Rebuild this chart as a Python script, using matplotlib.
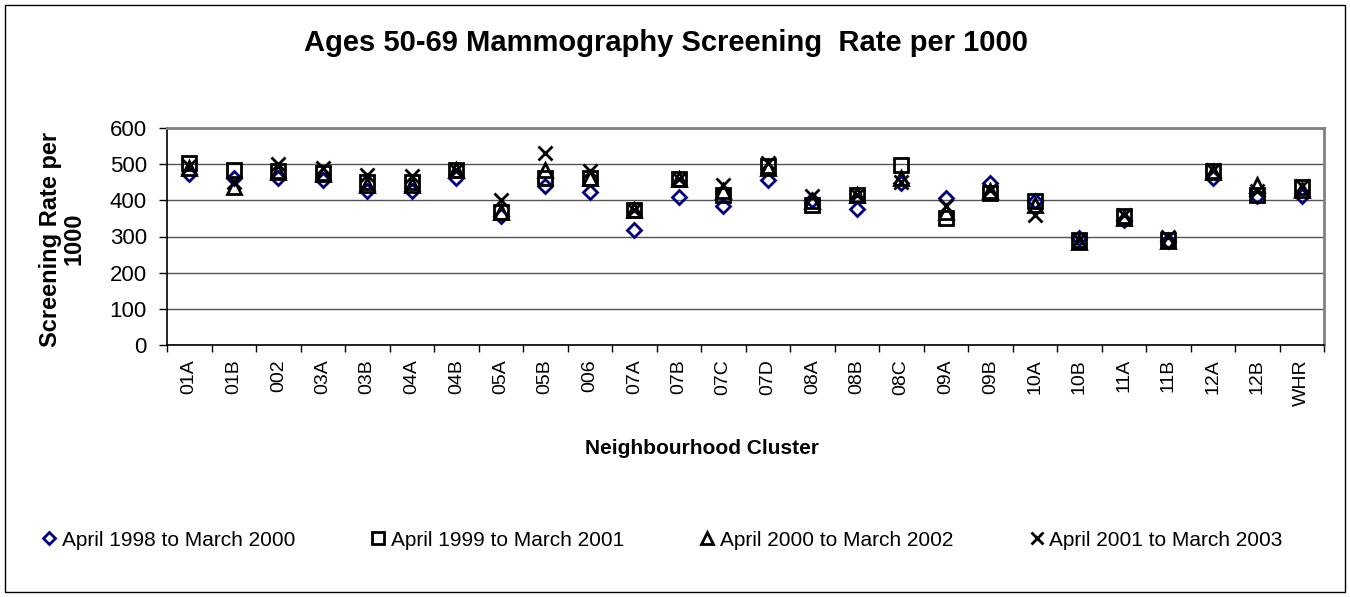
import matplotlib
matplotlib.use("Agg")
import matplotlib.pyplot as plt
from matplotlib.patches import Rectangle

plt.rcParams['font.family'] = ['Liberation Sans', 'DejaVu Sans']

# neighbourhood clusters along the x axis
clusters = ['01A', '01B', '002', '03A', '03B', '04A', '04B', '05A', '05B', '006',
            '07A', '07B', '07C', '07D', '08A', '08B', '08C', '09A', '09B', '10A',
            '10B', '11A', '11B', '12A', '12B', 'WHR']

# screening rate per 1000, one list per period
rate_98_00 = [472, 462, 462, 455, 425, 425, 462, 356, 440, 423, 319, 409, 383,
              457, 402, 376, 448, 406, 448, 397, 296, 346, 288, 462, 411, 413]
rate_99_01 = [503, 485, 482, 475, 452, 452, 485, 369, 462, 462, 374, 459, 416,
              494, 388, 416, 498, 351, 420, 397, 289, 357, 291, 482, 416, 437]
rate_00_02 = [490, 437, 478, 472, 443, 443, 485, 369, 485, 462, 372, 459, 425,
              490, 398, 416, 462, 369, 425, 388, 285, 352, 288, 478, 443, 429]
rate_01_03 = [495, 452, 500, 490, 470, 468, 485, 400, 531, 480, 374, 459, 443,
              503, 411, 416, 452, 383, 429, 360, 291, 360, 300, 485, 425, 440]

periods = ['April 1998 to March 2000', 'April 1999 to March 2001',
           'April 2000 to March 2002', 'April 2001 to March 2003']

W, H = 1350, 597
fig = plt.figure(figsize=(W / 100, H / 100), dpi=100)

# outer chart border
fig.patches.append(Rectangle((5 / W, 5 / H), 1340 / W, 587 / H, transform=fig.transFigure,
                             fill=False, edgecolor='black', linewidth=1))

ax = fig.add_axes([167 / W, (H - 345) / H, 1157 / W, 217 / H])

x = list(range(len(clusters)))
ax.plot(x, rate_98_00, linestyle='none', marker='D', ms=7, mfc='none', mec='#000080',
        mew=2, label=periods[0])
ax.plot(x, rate_99_01, linestyle='none', marker='s', ms=10, mfc='none', mec='black',
        mew=2, label=periods[1])
ax.plot(x, rate_00_02, linestyle='none', marker='^', ms=10, mfc='none', mec='black',
        mew=2, label=periods[2])
ax.plot(x, rate_01_03, linestyle='none', marker='x', ms=10, mec='black',
        mew=2, label=periods[3])

ax.set_xlim(-0.5, len(clusters) - 0.5)
ax.set_ylim(0, 600)
ax.set_yticks(range(0, 601, 100))
ax.tick_params(axis='y', labelsize=16, length=6, width=1, direction='out', pad=8.5)
ax.set_xticks(x)
ax.set_xticklabels(clusters, rotation=90, fontsize=14)
ax.tick_params(axis='x', which='major', length=0, pad=10)
ax.set_xticks([i - 0.5 for i in range(len(clusters) + 1)], minor=True)
ax.tick_params(axis='x', which='minor', length=5, width=1, direction='out')

ax.grid(axis='y', color='#555555', linewidth=1)
ax.set_axisbelow(True)
ax.spines['top'].set_color('#808080')
ax.spines['right'].set_color('#808080')
ax.spines['top'].set_linewidth(2)
ax.spines['right'].set_linewidth(2)
ax.spines['left'].set_linewidth(1.2)
ax.spines['bottom'].set_linewidth(1.2)

fig.text(666 / W, 1 - 43 / H, 'Ages 50-69 Mammography Screening  Rate per 1000',
         ha='center', va='center', fontsize=21, fontweight='bold')
fig.text(62 / W, 1 - 239 / H, 'Screening Rate per\n1000', rotation=90, ha='center',
         va='center', multialignment='center', fontsize=17, fontweight='bold',
         linespacing=1.05)
fig.text(702 / W, 1 - 449 / H, 'Neighbourhood Cluster', ha='center', va='center',
         fontsize=15, fontweight='bold')

fig.legend(loc='center left', bbox_to_anchor=(22 / W, 1 - 540 / H), ncol=4,
           frameon=False, fontsize=15, handlelength=0.8, handletextpad=0.2,
           columnspacing=3.6, markerscale=0.9)

fig.savefig('out.png', dpi=100)
